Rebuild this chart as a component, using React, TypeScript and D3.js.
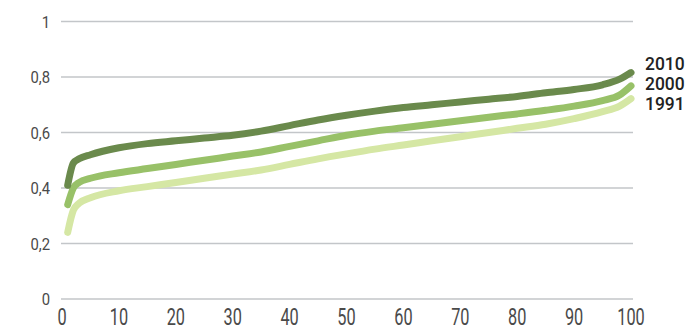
import React from "react";
import * as d3 from "d3";

const xs = [1, 2, 3, 5, 10, 15, 20, 25, 30, 35, 40, 45, 50, 55, 60, 65, 70, 75, 80, 85, 90, 95, 98, 100];
const s2010 = [0.41, 0.49, 0.505, 0.52, 0.545, 0.56, 0.57, 0.58, 0.59, 0.605, 0.625, 0.645, 0.662, 0.677, 0.69, 0.70, 0.71, 0.72, 0.73, 0.743, 0.755, 0.772, 0.792, 0.816];
const s2000 = [0.34, 0.40, 0.42, 0.435, 0.455, 0.47, 0.485, 0.50, 0.515, 0.53, 0.55, 0.57, 0.59, 0.605, 0.617, 0.63, 0.642, 0.655, 0.667, 0.68, 0.695, 0.715, 0.735, 0.768];
const s1991 = [0.24, 0.32, 0.345, 0.365, 0.39, 0.405, 0.42, 0.435, 0.45, 0.465, 0.485, 0.505, 0.523, 0.54, 0.555, 0.57, 0.585, 0.60, 0.615, 0.63, 0.65, 0.675, 0.695, 0.722];
const seriesNames = ["1991", "2000", "2010"];
const seriesColors = ["#d5e7a4", "#98c168", "#6a8a4c"];
const yTicks = [0, 0.2, 0.4, 0.6, 0.8, 1];
const xTicks = [0, 10, 20, 30, 40, 50, 60, 70, 80, 90, 100];

export default function App() {
  const x = d3.scaleLinear().domain([0, 100]).range([62, 631]);
  const y = d3.scaleLinear().domain([0, 1]).range([299, 21.5]);
  const line = d3
    .line<[number, number]>()
    .x((d) => x(d[0]))
    .y((d) => y(d[1]))
    .curve(d3.curveMonotoneX);
  const series = [s1991, s2000, s2010];
  const fmt = (v: number) => String(v).replace(".", ",");
  const labelY = [103, 83, 63];
  return (
    <svg
      width={690}
      height={325}
      style={{ position: "absolute", left: 0, top: 0, background: "#fff" }}
      fontFamily="Roboto"
    >
      {yTicks.map((t) => (
        <g key={t}>
          <line x1={61} x2={633} y1={y(t)} y2={y(t)} stroke="#c3c6c9" strokeWidth={1.5} />
          <text
            transform={`translate(50,${y(t) + 6}) scale(0.9,1)`}
            textAnchor="end"
            fontSize={16.5}
            fill="#4a4a4a"
          >
            {fmt(t)}
          </text>
        </g>
      ))}
      {xTicks.map((t) => (
        <text
          key={t}
          transform={`translate(${x(t)},325) scale(0.68,1)`}
          textAnchor="middle"
          fontSize={24}
          fill="#4a4a4a"
        >
          {t}
        </text>
      ))}
      {series.map((s, i) => (
        <path
          key={seriesNames[i]}
          d={line(xs.map((v, j) => [v, s[j]] as [number, number])) || ""}
          fill="none"
          stroke={seriesColors[i]}
          strokeWidth={7}
          strokeLinecap="round"
          strokeLinejoin="round"
        />
      ))}
      {seriesNames.map((n, i) => (
        <text
          key={n}
          transform={`translate(645,${labelY[i] + 6.5}) scale(0.92,1)`}
          fontSize={19}
          fontWeight={500}
          fill="#222"
        >
          {n}
        </text>
      ))}
    </svg>
  );
}
